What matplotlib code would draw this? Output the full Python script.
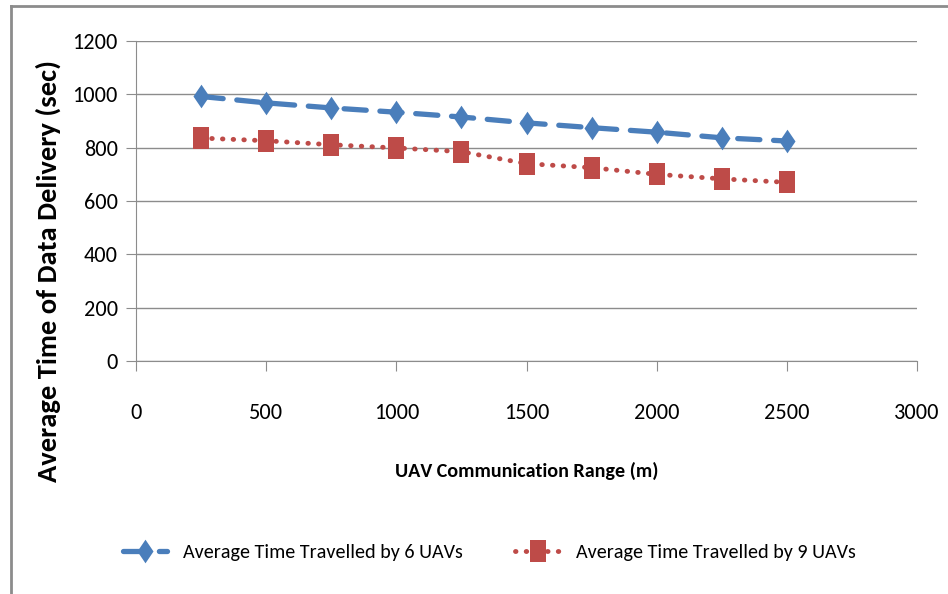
import matplotlib
matplotlib.use("Agg")
import matplotlib.pyplot as plt
from matplotlib.lines import Line2D

plt.rcParams['font.family'] = ['Carlito', 'DejaVu Sans']

x_range = [250, 500, 750, 1000, 1250, 1500, 1750, 2000, 2250, 2500]
uav6 = [992, 968, 949, 933, 915, 893, 875, 858, 837, 825]
uav9 = [836, 826, 811, 799, 785, 740, 725, 700, 683, 670]
x_ticks = [0, 500, 1000, 1500, 2000, 2500, 3000]
y_ticks = [0, 200, 400, 600, 800, 1000, 1200]

diamond = [(0, 1), (0.68, 0), (0, -1), (-0.68, 0), (0, 1)]
tall_square = [(-0.66, -1), (0.66, -1), (0.66, 1), (-0.66, 1), (-0.66, -1)]

fig = plt.figure(figsize=(9.48, 5.94), dpi=100)
ax = fig.add_axes([136/948, 1-361/594, (917-136)/948, (361-41)/594])

ax.plot(x_range, uav6, color='#4a7ebb', linestyle=(0, (4.2, 2.6)), linewidth=3.8,
        marker=diamond, markersize=17, markeredgewidth=0, dash_capstyle='round',
        label='Average Time Travelled by 6 UAVs')
ax.plot(x_range, uav9, color='#be4b48', linestyle=(0, (0.1, 2.1)), linewidth=3.5,
        dash_capstyle='round', marker=tall_square, markersize=16.5, markeredgewidth=0,
        label='Average Time Travelled by 9 UAVs')

ax.set_xlim(0, 3000)
ax.set_ylim(0, 1200)
ax.set_xticks(x_ticks)
ax.set_yticks(y_ticks)
ax.grid(axis='y', color='#8c8c8c', linewidth=1)
ax.set_axisbelow(True)
for s in ['top', 'right']:
    ax.spines[s].set_visible(False)
ax.spines['left'].set_color('#8c8c8c')
ax.spines['bottom'].set_color('#8c8c8c')
ax.tick_params(axis='both', colors='#8c8c8c', labelcolor='black', labelsize=16, length=7)
ax.tick_params(axis='y', pad=6)
ax.tick_params(axis='x', pad=23)

ax.set_xlabel('UAV Communication Range (m)', fontsize=14.5, fontweight='bold', labelpad=28)
fig.text(48/948, 1-271/594, 'Average Time of Data Delivery (sec)', rotation=90,
         ha='center', va='center', fontsize=20.5, fontweight='bold')

fig.legend(loc='center', bbox_to_anchor=(0.516, 1-552/594), ncol=2, frameon=False,
           fontsize=14.5, handlelength=2.2, handletextpad=0.8, columnspacing=2.6)

fig.add_artist(Line2D([11/948, 11/948], [0, 1-6/594], transform=fig.transFigure,
                      color='#8c8c8c', linewidth=2))
fig.add_artist(Line2D([11/948, 1], [1-6/594, 1-6/594], transform=fig.transFigure,
                      color='#8c8c8c', linewidth=2))

fig.savefig('out.png', dpi=100)
